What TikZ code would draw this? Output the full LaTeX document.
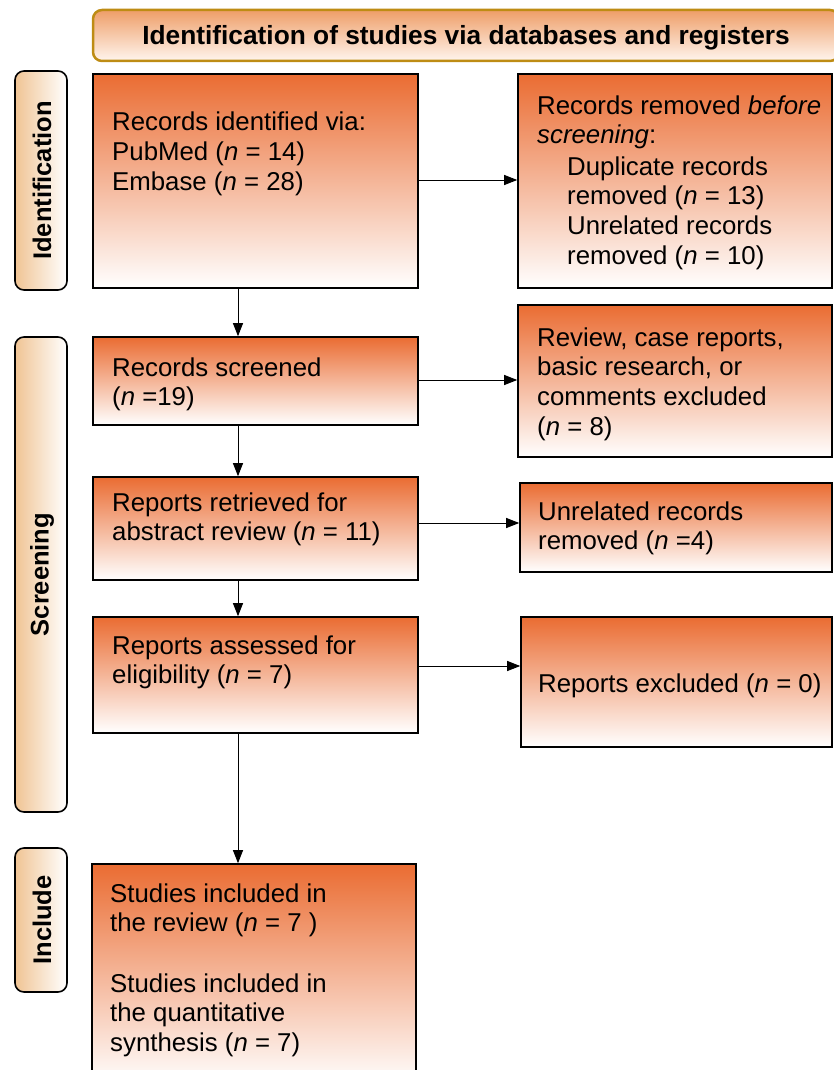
\documentclass[tikz,border=0pt]{standalone}
\usepackage{fontspec}
\setmainfont{Liberation Sans}
\usetikzlibrary{arrows.meta}
\definecolor{boxtop}{RGB}{234,108,50}
\definecolor{sidetan}{RGB}{240,196,148}
\definecolor{headtop}{RGB}{238,158,104}
\definecolor{headbot}{RGB}{255,245,238}
\definecolor{headline}{RGB}{190,140,20}
\tikzset{
  box/.style={draw=black, line width=1.6pt, top color=boxtop, bottom color=white, inner sep=0pt},
  side/.style={draw=black, line width=1.6pt, rounded corners=9pt, left color=sidetan, right color=white, inner sep=0pt, minimum width=52pt},
  sidetxt/.style={rotate=90, font=\fontsize{25.5}{30}\selectfont\bfseries, inner sep=0pt},
  header/.style={draw=headline, line width=2.5pt, rounded corners=9pt, top color=headtop, bottom color=headbot, inner sep=0pt},
  txt/.style={anchor=base west, inner sep=0pt, font=\fontsize{25.8}{30}\selectfont},
  flow/.style={line width=1pt, -{Triangle[length=13pt,width=10pt]}},
}
\newcommand\boxlines[4]{%
  \foreach \t [count=\i] in {#4} \node[txt] (#1\i) at (#2,{#3+29.8*(\i-1)}) {\t};}
\begin{document}
\begin{tikzpicture}[x=1pt,y=-1pt]
\useasboundingbox (0,0) rectangle (833,1070);
% header
\node[header, minimum width=746pt, minimum height=51pt] (head) at (466,35.5) {};
\node[anchor=base, inner sep=0pt, font=\fontsize{26.3}{30}\selectfont\bfseries] (headt) at (466,45) {Identification of studies via databases and registers};
% side labels
\node[side, minimum height=219pt] (s1) at (41,180.5) {};
\node[sidetxt] (s1t) at (42,180.5) {Identification};
\node[side, minimum height=475pt] (s2) at (41,574.5) {};
\node[sidetxt] (s2t) at (42,574.5) {Screening};
\node[side, minimum height=144pt] (s3) at (41,920) {};
\node[sidetxt] (s3t) at (42,920) {Include};
% left column
\node[box, minimum width=325pt, minimum height=214pt] (b1) at (255.5,181) {};
\node[box, minimum width=325pt, minimum height=88pt] (b2) at (255.5,381) {};
\node[box, minimum width=325pt, minimum height=103pt] (b3) at (255.5,528.5) {};
\node[box, minimum width=325pt, minimum height=116pt] (b4) at (255.5,675) {};
\node[box, minimum width=324pt, minimum height=221pt] (b5) at (254,974.5) {};
% right column
\node[box, minimum width=314pt, minimum height=214pt] (r1) at (675,181) {};
\node[box, minimum width=314pt, minimum height=152pt] (r2) at (675,381) {};
\node[box, minimum width=312pt, minimum height=89pt] (r3) at (676,527.5) {};
\node[box, minimum width=311pt, minimum height=130pt] (r4) at (676.5,682) {};
% texts
\boxlines{bA}{112}{131}{{Records identified via:},{PubMed (\textit{n} = 14)},{Embase (\textit{n} = 28)}}
\boxlines{bB}{112}{376}{{Records screened},{(\textit{n} =19)}}
\boxlines{bC}{112}{511}{{Reports retrieved for},{abstract review (\textit{n} = 11)}}
\boxlines{bD}{112}{654}{{Reports assessed for},{eligibility (\textit{n} = 7)}}
\boxlines{bE}{110}{902}{{Studies included in},{the review (\textit{n} = 7 )}}
\boxlines{bF}{110}{992}{{Studies included in},{the quantitative},{synthesis (\textit{n} = 7)}}
\boxlines{rA}{537}{114}{{Records removed \textit{before}},{\textit{screening}:}}
\boxlines{rB}{567}{175}{{Duplicate records},{removed (\textit{n} = 13)},{Unrelated records},{removed (\textit{n} = 10)}}
\boxlines{rC}{537}{346}{{Review, case reports,},{basic research, or},{comments excluded},{(\textit{n} = 8)}}
\boxlines{rD}{538}{520}{{Unrelated records},{removed (\textit{n} =4)}}
\boxlines{rE}{538}{692}{{Reports excluded (\textit{n} = 0)}}
% connectors
\coordinate (ax) at (238,0);
\draw[flow] (b1.south -| ax) -- (b2.north -| ax);
\draw[flow] (b2.south -| ax) -- (b3.north -| ax);
\draw[flow] (b3.south -| ax) -- (b4.north -| ax);
\draw[flow] (b4.south -| ax) -- (b5.north -| ax);
\draw[flow] (b1.east |- 0,180) -- (r1.west |- 0,180);
\draw[flow] (b2.east |- 0,380) -- (r2.west |- 0,380);
\draw[flow] (b3.east |- 0,523) -- (r3.west |- 0,523);
\draw[flow] (b4.east |- 0,666) -- (r4.west |- 0,666);
\end{tikzpicture}
\end{document}
